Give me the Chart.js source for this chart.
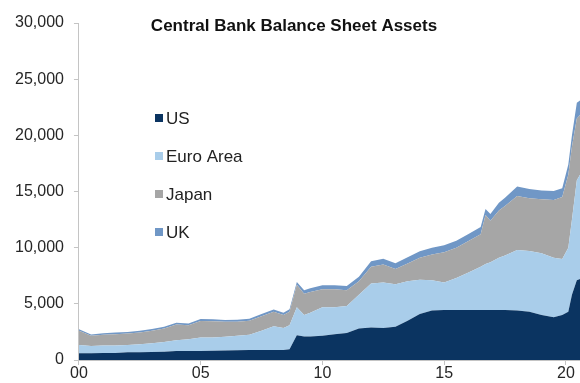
<!DOCTYPE html>
<html>
<head>
<meta charset="utf-8">
<script src="https://cdn.jsdelivr.net/npm/chart.js@4/dist/chart.umd.min.js"></script>
<style>
    html, body { margin: 0; padding: 0; background: #fff; }
</style>
</head>
<body>
<canvas id="myChart" width="580" height="383"></canvas>
<script>
// dates as decimal years, values in US$ bn
var datas = [2000.0, 2000.5, 2001.0, 2001.5, 2002.0, 2002.5, 2003.0, 2003.5, 2004.0, 2004.5,
    2005.0, 2005.5, 2006.0, 2006.5, 2007.0, 2007.5, 2008.0, 2008.4, 2008.65, 2008.95,
    2009.25, 2009.5, 2010.0, 2010.5, 2011.0, 2011.5, 2012.0, 2012.5, 2013.0, 2013.5,
    2014.0, 2014.5, 2015.0, 2015.5, 2016.0, 2016.5, 2016.7, 2016.9, 2017.25, 2017.5,
    2018.0, 2018.5, 2019.0, 2019.5, 2019.85, 2020.1, 2020.25, 2020.45, 2020.58];

var us = [600, 600, 620, 630, 680, 700, 720, 740, 800, 800,
    800, 820, 840, 860, 880, 880, 900, 900, 950, 2200,
    2100, 2100, 2150, 2300, 2400, 2800, 2900, 2850, 2950, 3500,
    4100, 4400, 4450, 4450, 4450, 4450, 4450, 4450, 4450, 4450,
    4400, 4300, 4000, 3800, 4000, 4300, 5800, 7100, 7200];

var euroArea = [740, 650, 660, 670, 660, 700, 780, 860, 950, 1050,
    1200, 1180, 1240, 1290, 1370, 1720, 2100, 1950, 2150, 2500,
    1900, 2100, 2550, 2400, 2400, 3000, 3900, 4050, 3800, 3500,
    3050, 2700, 2450, 2850, 3350, 3850, 4100, 4250, 4650, 4850,
    5400, 5400, 5500, 5300, 5000, 5700, 6700, 8900, 9300];

var japan = [1260, 900, 970, 1000, 1010, 1050, 1100, 1200, 1400, 1250,
    1480, 1450, 1320, 1250, 1250, 1300, 1300, 1150, 1200, 2000,
    1900, 1850, 1600, 1600, 1400, 1200, 1500, 1600, 1350, 1600,
    1950, 2300, 2700, 2700, 2800, 2900, 4350, 3700, 4200, 4400,
    4800, 4700, 4800, 5150, 5500, 6500, 6500, 5500, 5300];

var uk = [150, 130, 140, 140, 140, 150, 150, 160, 160, 160,
    170, 170, 170, 180, 180, 190, 200, 200, 220, 250,
    300, 330, 350, 350, 380, 420, 480, 520, 520, 550,
    570, 600, 620, 620, 620, 640, 550, 600, 700, 750,
    850, 820, 800, 800, 800, 900, 1000, 1400, 1300];

var anosTicks = [2000, 2005, 2010, 2015, 2020];
var anosLabels = ["00", "05", "10", "15", "20"];

var titulo = "Central Bank Balance Sheet Assets";
var fonte = "'Liberation Sans', Arial, sans-serif";

function pontos(valores) {
    return datas.map(function (d, i) {
        return { x: d, y: valores[i] };
    });
}

function serie(label, valores, cor, fill) {
    return {
        label: label,
        data: pontos(valores),
        backgroundColor: cor,
        borderColor: cor,
        borderWidth: 0,
        pointRadius: 0,
        tension: 0,
        fill: fill,
    };
}

// title and legend sit inside the plot area
var tituloLegenda = {
    id: "tituloLegenda",
    afterDatasetsDraw: function (chart) {
        var ctx = chart.ctx;
        ctx.save();
        ctx.fillStyle = "#111";
        ctx.font = "bold 17px " + fonte;
        ctx.textAlign = "center";
        ctx.textBaseline = "middle";
        ctx.fillText(titulo, 294, 26);

        ctx.font = "17px " + fonte;
        ctx.textAlign = "left";
        chart.data.datasets.forEach(function (ds, i) {
            var y = 118 + i * 38;
            ctx.fillStyle = ds.backgroundColor;
            ctx.fillRect(155, y - 4, 8, 8);
            ctx.fillStyle = "#222";
            ctx.fillText(ds.label, 166, y + 1);
        });
        ctx.restore();
    },
};

var ctx = document.getElementById("myChart").getContext("2d");

var myChart = new Chart(ctx, {
    type: "line",
    data: {
        datasets: [
            serie("US", us, "#0b3461", "origin"),
            serie("Euro Area", euroArea, "#a9cdea", "-1"),
            serie("Japan", japan, "#a6a6a6", "-1"),
            serie("UK", uk, "#7097c6", "-1"),
        ],
    },
    options: {
        responsive: false,
        animation: false,
        layout: {
            padding: { left: 5, top: 23, right: 0, bottom: 0 },
        },
        plugins: {
            legend: { display: false },
            tooltip: { enabled: false },
        },
        scales: {
            x: {
                type: "linear",
                min: 2000,
                max: 2020.58,
                afterBuildTicks: function (scale) {
                    scale.ticks = anosTicks.map(function (v) {
                        return { value: v };
                    });
                },
                ticks: {
                    autoSkip: false,
                    maxRotation: 0,
                    padding: 1,
                    color: "#262626",
                    font: { family: fonte, size: 16, lineHeight: 1 },
                    callback: function (v) {
                        return anosLabels[anosTicks.indexOf(v)];
                    },
                },
                grid: {
                    drawOnChartArea: false,
                    tickLength: 5,
                    color: "#c4c4c4",
                },
                border: { color: "#c4c4c4" },
            },
            y: {
                stacked: true,
                min: 0,
                max: 30000,
                ticks: {
                    stepSize: 5000,
                    padding: 10,
                    color: "#262626",
                    font: { family: fonte, size: 16 },
                    callback: function (v) {
                        return v.toLocaleString("en-US");
                    },
                },
                grid: {
                    drawOnChartArea: false,
                    tickLength: 5,
                    color: "#c4c4c4",
                },
                border: { color: "#c4c4c4" },
            },
        },
    },
    plugins: [tituloLegenda],
});
</script>
</body>
</html>
